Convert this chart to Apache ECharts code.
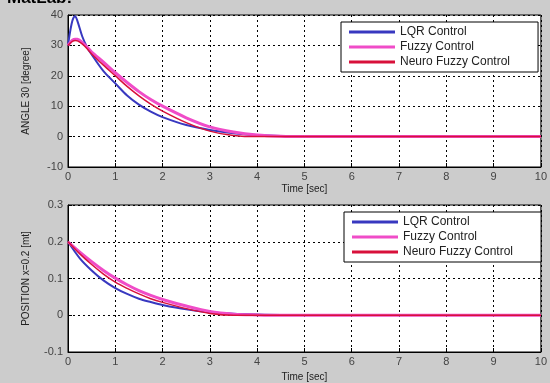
<!DOCTYPE html>
<html><head><meta charset="utf-8">
<script src="https://cdn.jsdelivr.net/npm/echarts@6/dist/echarts.min.js"></script>
<style>html,body{margin:0;padding:0;background:#cccccc}#c{width:550px;height:383px}</style>
</head><body><div id="c"></div>
<script>
// ---- data ----
const seriesNames = ['LQR Control', 'Fuzzy Control', 'Neuro Fuzzy Control'];
const xTicks = [0,1,2,3,4,5,6,7,8,9,10];
const angleTicks = [-10,0,10,20,30,40];
const posTicks = [-0.1,0,0.1,0.2,0.3];

const tAngle = [0,0.05,0.1,0.15,0.2,0.3,0.4,0.5,0.75,1,1.25,1.5,1.75,2,2.5,3,3.5,4,4.5,5,6,7,8,9,10];
const lqrAngle   = [30,35,38.5,39.6,38,33,29.5,27,21.5,17.5,13.5,10.5,8.2,6.4,3.8,2.2,1.1,0.5,0.2,0.1];
const fuzzyAngle = [30,31,31.8,32,32,31,29.5,27.8,24.5,21,17.8,14.8,12.2,10,6.2,3.2,1.5,0.5,0.1,0,0,0,0,0,0];
const neuroAngle = [30,30.8,31.4,31.6,31.5,30.5,29,27.2,23.5,20,16.5,13.4,10.7,8.4,4.6,1.8,0.4,0,0,0,0,0,0,0,0];

const tPos = [0,0.25,0.5,0.75,1,1.25,1.5,1.75,2,2.5,3,3.5,4,4.5,5,5.9,6,7,8,9,10];
const lqrPos   = [0.2,0.155,0.122,0.095,0.074,0.058,0.045,0.036,0.028,0.016,0.008,0.004,0.002,0.001,0.001,0.001];
const fuzzyPos = [0.2,0.172,0.146,0.122,0.101,0.083,0.067,0.054,0.043,0.025,0.01,0.003,0.001,0,0,0,0,0,0,0,0];
const neuroPos = [0.2,0.167,0.138,0.112,0.09,0.073,0.058,0.045,0.035,0.018,0.005,0,0,0,0,0,0,0,0,0,0];

const colors = ['#3838c0', '#f04cc8', '#d8103a'];
const widths = [2, 3, 1.5];

function pairs(t, v){ return v.map((y,i)=>[t[i], y]); }

const chart = echarts.init(document.getElementById('c'));
const font = 'Liberation Sans, Arial, sans-serif';

function xAxis(gi){
  return {
    type:'value', gridIndex:gi, min:xTicks[0], max:xTicks[xTicks.length-1], interval:1,
    name:'Time [sec]', nameLocation:'middle', nameGap: gi===0 ? 17 : 20,
    nameTextStyle:{color:'#222', fontSize:10, fontFamily:font},
    axisLine:{show:true, onZero:false, lineStyle:{color:'#000'}},
    axisTick:{inside:true, length:4, lineStyle:{color:'#000'}},
    axisLabel:{color:'#444', fontSize:11, fontFamily:font, margin:4},
    splitLine:{show:true, lineStyle:{color:'#000', type:[2,3], width:1}}
  };
}
function yAxis(gi, ticks, name, fmt){
  return {
    type:'value', gridIndex:gi, min:ticks[0], max:ticks[ticks.length-1],
    interval: ticks[1]-ticks[0],
    name:name, nameLocation:'middle', nameGap:37,
    nameTextStyle:{color:'#222', fontSize:10, fontFamily:font},
    axisLine:{show:true, onZero:false, lineStyle:{color:'#000'}},
    axisTick:{inside:true, length:4, lineStyle:{color:'#000'}},
    axisLabel:{color:'#444', fontSize:11, fontFamily:font, margin:5, formatter:fmt},
    splitLine:{show:true, lineStyle:{color:'#000', type:[2,3], width:1}}
  };
}
function legend(gi, left, top){
  return {
    id:'lg'+gi,
    data:seriesNames.map(n=>({name:n})), orient:'vertical', left:left, top:top,
    backgroundColor:'#fff', borderColor:'#000', borderWidth:1,
    padding:[4,10,4,8], itemGap:3, itemWidth:46, itemHeight:3, icon:'rect',
    formatter: n => n + '\u2003\u2002',
    textStyle:{color:'#222', fontSize:12, fontFamily:font},
    selectedMode:false
  };
}

const allSeries = [];
[[tAngle,[lqrAngle,fuzzyAngle,neuroAngle],0],[tPos,[lqrPos,fuzzyPos,neuroPos],1]].forEach(([t,vals,gi])=>{
  vals.forEach((v,i)=>{
    allSeries.push({
      name:seriesNames[i], type:'line', xAxisIndex:gi, yAxisIndex:gi,
      data:pairs(t,v), showSymbol:false, smooth:0.3, animation:false,
      lineStyle:{color:colors[i], width:widths[i]}, itemStyle:{color:colors[i]},
      z: 3+i
    });
  });
});

chart.setOption({
  backgroundColor:'#cccccc',
  animation:false,
  title:{text:'MatLab:', left:2, top:-15, textStyle:{fontSize:17, fontWeight:'bold', color:'#000', fontFamily:font}},
  grid:[
    {left:68, top:15, width:476, height:152, show:true, backgroundColor:'#fff', borderColor:'#000', borderWidth:1},
    {left:68, top:205, width:476, height:151, show:true, backgroundColor:'#fff', borderColor:'#000', borderWidth:1}
  ],
  legend:[legend(0, 341, 22), legend(1, 344, 212)],
  xAxis:[xAxis(0), xAxis(1)],
  yAxis:[
    yAxis(0, angleTicks, 'ANGLE 30 [degree]', v=>String(v)),
    yAxis(1, posTicks, 'POSITION x=0.2 [mt]', v=>String(Math.round(v*10)/10))
  ],
  series:allSeries
});
</script></body></html>
